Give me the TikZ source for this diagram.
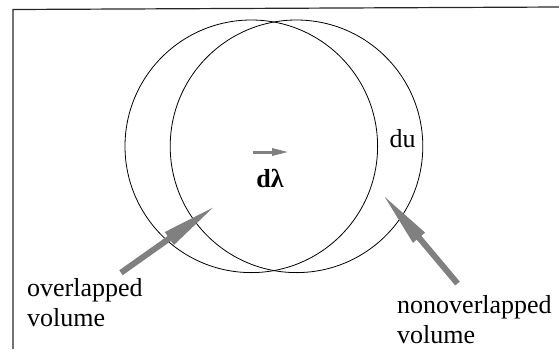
\documentclass[tikz,border=0pt]{standalone}
\usepackage{fontspec}
\setmainfont{Liberation Serif}
\usepackage{tikz}
\usetikzlibrary{arrows.meta}
\definecolor{cShade}{RGB}{128,128,128}
\tikzset{
  ring/.style={draw,circle,minimum size=252.6pt,inner sep=0pt,line width=0.8pt}, % sphere outline
  pointer/.style={cShade,line width=6pt,-{Triangle[length=58pt,width=14pt]}},    % big grey arrow
  dvec/.style={cShade,line width=3pt,-{Triangle[length=17pt,width=7pt]}},        % displacement
  lbl/.style={inner sep=0pt,align=left,font=\rmfamily\fontsize{26}{30}\selectfont},
  frame/.style={line width=1.2pt,black!85},
}

\begin{document}
\begin{tikzpicture}[x=1pt,y=-1pt]
  \useasboundingbox (0,0) rectangle (559,349);
  \draw[frame] (13,349) -- (13,9.5) -- (559,7);
  % sphere before and after the shift
  \node[ring] (old) at (251.3,146.3){};
  \node[ring] (new) at (296.5,146.3){};
  % labels
  \node[lbl,anchor=base] (du) at (402.5,147){du};
  \node[lbl,anchor=base] (dl) at (270,187){\textbf{dλ}};
  \node[lbl,anchor=north west] (ov)  at (27,278){overlapped\\volume};
  \node[lbl,anchor=north west] (nov) at (397,295){nonoverlapped\\volume};
  % arrows
  \coordinate (dTail) at (253,152);   \coordinate (dTip) at (289,152);
  \coordinate (ovTail) at (121,272.7);\coordinate (ovTip) at (216.7,205);
  \coordinate (novTail) at (457.5,283.5);\coordinate (novTip) at (381.7,193.3);
  \draw[dvec](dTail)--(dTip);
  \draw[pointer](ovTail)--(ovTip);
  \draw[pointer](novTail)--(novTip);
\end{tikzpicture}
\end{document}
